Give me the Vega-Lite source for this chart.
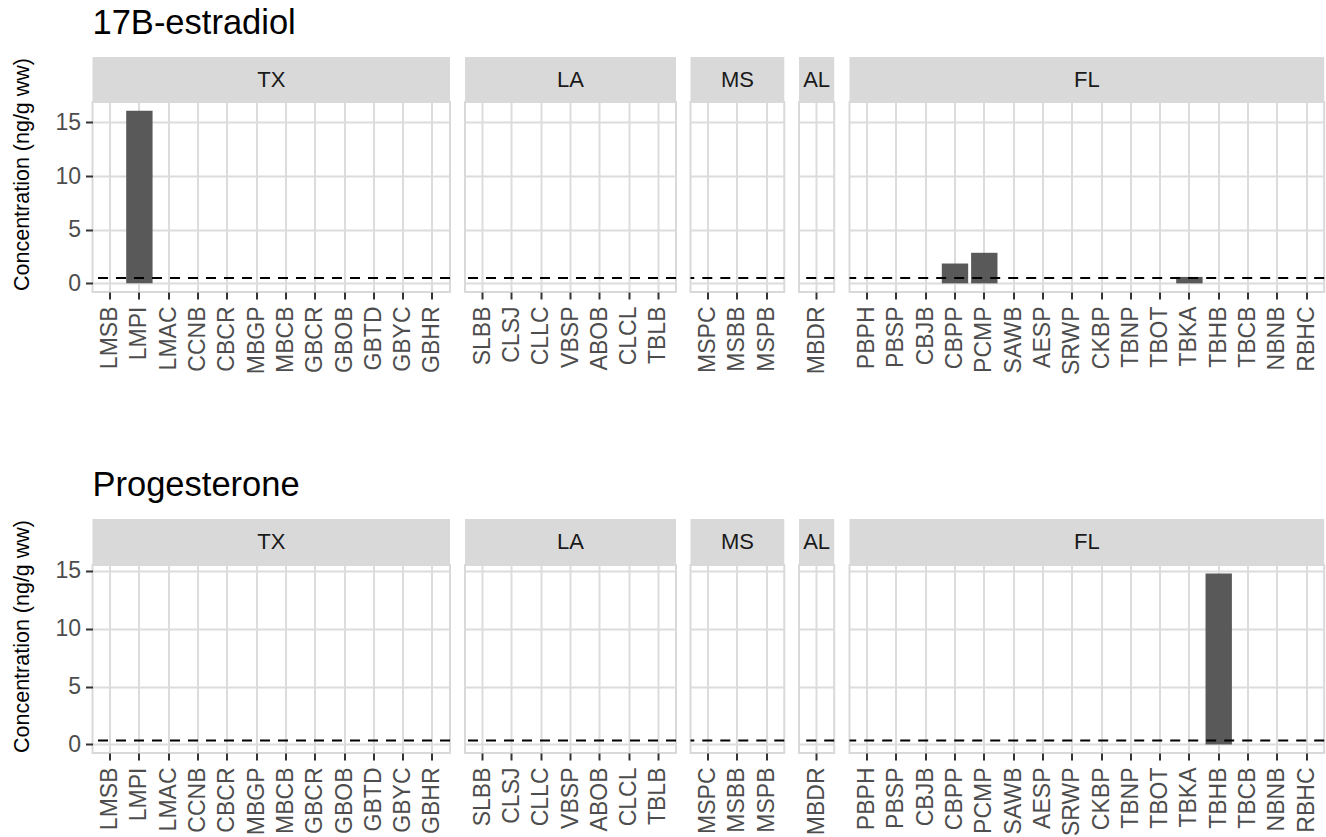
{
  "$schema": "https://vega.github.io/schema/vega-lite/v6.json",
  "background": "white",
  "padding": {"left": 10.5, "top": 5, "right": 1, "bottom": 2},
  "datasets": {
    "conc": [
      {"hormone": "17B-estradiol", "state": "TX", "site": "LMSB", "value": 0},
      {"hormone": "17B-estradiol", "state": "TX", "site": "LMPI", "value": 16.1},
      {"hormone": "17B-estradiol", "state": "TX", "site": "LMAC", "value": 0},
      {"hormone": "17B-estradiol", "state": "TX", "site": "CCNB", "value": 0},
      {"hormone": "17B-estradiol", "state": "TX", "site": "CBCR", "value": 0},
      {"hormone": "17B-estradiol", "state": "TX", "site": "MBGP", "value": 0},
      {"hormone": "17B-estradiol", "state": "TX", "site": "MBCB", "value": 0},
      {"hormone": "17B-estradiol", "state": "TX", "site": "GBCR", "value": 0},
      {"hormone": "17B-estradiol", "state": "TX", "site": "GBOB", "value": 0},
      {"hormone": "17B-estradiol", "state": "TX", "site": "GBTD", "value": 0},
      {"hormone": "17B-estradiol", "state": "TX", "site": "GBYC", "value": 0},
      {"hormone": "17B-estradiol", "state": "TX", "site": "GBHR", "value": 0},
      {"hormone": "17B-estradiol", "state": "LA", "site": "SLBB", "value": 0},
      {"hormone": "17B-estradiol", "state": "LA", "site": "CLSJ", "value": 0},
      {"hormone": "17B-estradiol", "state": "LA", "site": "CLLC", "value": 0},
      {"hormone": "17B-estradiol", "state": "LA", "site": "VBSP", "value": 0},
      {"hormone": "17B-estradiol", "state": "LA", "site": "ABOB", "value": 0},
      {"hormone": "17B-estradiol", "state": "LA", "site": "CLCL", "value": 0},
      {"hormone": "17B-estradiol", "state": "LA", "site": "TBLB", "value": 0},
      {"hormone": "17B-estradiol", "state": "MS", "site": "MSPC", "value": 0},
      {"hormone": "17B-estradiol", "state": "MS", "site": "MSBB", "value": 0},
      {"hormone": "17B-estradiol", "state": "MS", "site": "MSPB", "value": 0},
      {"hormone": "17B-estradiol", "state": "AL", "site": "MBDR", "value": 0},
      {"hormone": "17B-estradiol", "state": "FL", "site": "PBPH", "value": 0},
      {"hormone": "17B-estradiol", "state": "FL", "site": "PBSP", "value": 0},
      {"hormone": "17B-estradiol", "state": "FL", "site": "CBJB", "value": 0},
      {"hormone": "17B-estradiol", "state": "FL", "site": "CBPP", "value": 1.85},
      {"hormone": "17B-estradiol", "state": "FL", "site": "PCMP", "value": 2.85},
      {"hormone": "17B-estradiol", "state": "FL", "site": "SAWB", "value": 0},
      {"hormone": "17B-estradiol", "state": "FL", "site": "AESP", "value": 0},
      {"hormone": "17B-estradiol", "state": "FL", "site": "SRWP", "value": 0},
      {"hormone": "17B-estradiol", "state": "FL", "site": "CKBP", "value": 0},
      {"hormone": "17B-estradiol", "state": "FL", "site": "TBNP", "value": 0},
      {"hormone": "17B-estradiol", "state": "FL", "site": "TBOT", "value": 0},
      {"hormone": "17B-estradiol", "state": "FL", "site": "TBKA", "value": 0.6},
      {"hormone": "17B-estradiol", "state": "FL", "site": "TBHB", "value": 0},
      {"hormone": "17B-estradiol", "state": "FL", "site": "TBCB", "value": 0},
      {"hormone": "17B-estradiol", "state": "FL", "site": "NBNB", "value": 0},
      {"hormone": "17B-estradiol", "state": "FL", "site": "RBHC", "value": 0},
      {"hormone": "Progesterone", "state": "TX", "site": "LMSB", "value": 0},
      {"hormone": "Progesterone", "state": "TX", "site": "LMPI", "value": 0},
      {"hormone": "Progesterone", "state": "TX", "site": "LMAC", "value": 0},
      {"hormone": "Progesterone", "state": "TX", "site": "CCNB", "value": 0},
      {"hormone": "Progesterone", "state": "TX", "site": "CBCR", "value": 0},
      {"hormone": "Progesterone", "state": "TX", "site": "MBGP", "value": 0},
      {"hormone": "Progesterone", "state": "TX", "site": "MBCB", "value": 0},
      {"hormone": "Progesterone", "state": "TX", "site": "GBCR", "value": 0},
      {"hormone": "Progesterone", "state": "TX", "site": "GBOB", "value": 0},
      {"hormone": "Progesterone", "state": "TX", "site": "GBTD", "value": 0},
      {"hormone": "Progesterone", "state": "TX", "site": "GBYC", "value": 0},
      {"hormone": "Progesterone", "state": "TX", "site": "GBHR", "value": 0},
      {"hormone": "Progesterone", "state": "LA", "site": "SLBB", "value": 0},
      {"hormone": "Progesterone", "state": "LA", "site": "CLSJ", "value": 0},
      {"hormone": "Progesterone", "state": "LA", "site": "CLLC", "value": 0},
      {"hormone": "Progesterone", "state": "LA", "site": "VBSP", "value": 0},
      {"hormone": "Progesterone", "state": "LA", "site": "ABOB", "value": 0},
      {"hormone": "Progesterone", "state": "LA", "site": "CLCL", "value": 0},
      {"hormone": "Progesterone", "state": "LA", "site": "TBLB", "value": 0},
      {"hormone": "Progesterone", "state": "MS", "site": "MSPC", "value": 0},
      {"hormone": "Progesterone", "state": "MS", "site": "MSBB", "value": 0},
      {"hormone": "Progesterone", "state": "MS", "site": "MSPB", "value": 0},
      {"hormone": "Progesterone", "state": "AL", "site": "MBDR", "value": 0},
      {"hormone": "Progesterone", "state": "FL", "site": "PBPH", "value": 0},
      {"hormone": "Progesterone", "state": "FL", "site": "PBSP", "value": 0},
      {"hormone": "Progesterone", "state": "FL", "site": "CBJB", "value": 0},
      {"hormone": "Progesterone", "state": "FL", "site": "CBPP", "value": 0},
      {"hormone": "Progesterone", "state": "FL", "site": "PCMP", "value": 0},
      {"hormone": "Progesterone", "state": "FL", "site": "SAWB", "value": 0},
      {"hormone": "Progesterone", "state": "FL", "site": "AESP", "value": 0},
      {"hormone": "Progesterone", "state": "FL", "site": "SRWP", "value": 0},
      {"hormone": "Progesterone", "state": "FL", "site": "CKBP", "value": 0},
      {"hormone": "Progesterone", "state": "FL", "site": "TBNP", "value": 0},
      {"hormone": "Progesterone", "state": "FL", "site": "TBOT", "value": 0},
      {"hormone": "Progesterone", "state": "FL", "site": "TBKA", "value": 0},
      {"hormone": "Progesterone", "state": "FL", "site": "TBHB", "value": 14.77},
      {"hormone": "Progesterone", "state": "FL", "site": "TBCB", "value": 0},
      {"hormone": "Progesterone", "state": "FL", "site": "NBNB", "value": 0},
      {"hormone": "Progesterone", "state": "FL", "site": "RBHC", "value": 0}
    ],
    "loq": [
      {"hormone": "17B-estradiol", "loq": 0.5},
      {"hormone": "Progesterone", "loq": 0.35}
    ]
  },
  "spacing": 91,
  "vconcat": [
    {
      "title": {"text": "17B-estradiol", "frame": "group", "anchor": "start"},
      "spacing": 10.5,
      "hconcat": [
        {"spacing": 0, "bounds": "flush", "vconcat": [
          {"width": 357.5, "height": 45, "view": {"fill": "#d9d9d9", "stroke": null}, "data": {"values": [{"state": "TX"}]}, "mark": {"type": "text", "fontSize": 22, "color": "#1a1a1a"}, "encoding": {"text": {"field": "state", "type": "nominal"}}},
          {"width": 357.5, "height": 190, "layer": [
            {"data": {"name": "conc"}, "transform": [{"filter": {"field": "hormone", "equal": "17B-estradiol"}}, {"filter": {"field": "state", "equal": "TX"}}],
             "mark": {"type": "bar", "color": "#595959"},
             "encoding": {
               "x": {"field": "site", "type": "nominal", "sort": null, "scale": {"paddingInner": 0.1, "paddingOuter": 0.15}, "axis": {"title": null}},
               "y": {"field": "value", "type": "quantitative", "scale": {"domain": [-0.805, 16.905], "nice": false, "zero": false}, "axis": {"title": "Concentration (ng/g ww)", "values": [0, 5, 10, 15], "titleY": 72}}}},
            {"data": {"name": "loq"}, "transform": [{"filter": {"field": "hormone", "equal": "17B-estradiol"}}], "mark": {"type": "rule", "color": "black", "strokeWidth": 2, "strokeDash": [10, 8]}, "encoding": {"y": {"field": "loq", "type": "quantitative"}}}
          ]}
        ]},
        {"spacing": 0, "bounds": "flush", "vconcat": [
          {"width": 211, "height": 45, "view": {"fill": "#d9d9d9", "stroke": null}, "data": {"values": [{"state": "LA"}]}, "mark": {"type": "text", "fontSize": 22, "color": "#1a1a1a"}, "encoding": {"text": {"field": "state", "type": "nominal"}}},
          {"width": 211, "height": 190, "layer": [
            {"data": {"name": "conc"}, "transform": [{"filter": {"field": "hormone", "equal": "17B-estradiol"}}, {"filter": {"field": "state", "equal": "LA"}}],
             "mark": {"type": "bar", "color": "#595959"},
             "encoding": {
               "x": {"field": "site", "type": "nominal", "sort": null, "scale": {"paddingInner": 0.1, "paddingOuter": 0.15}, "axis": {"title": null}},
               "y": {"field": "value", "type": "quantitative", "scale": {"domain": [-0.805, 16.905], "nice": false, "zero": false}, "axis": {"title": null, "labels": false, "ticks": false, "values": [0, 5, 10, 15]}}}},
            {"data": {"name": "loq"}, "transform": [{"filter": {"field": "hormone", "equal": "17B-estradiol"}}], "mark": {"type": "rule", "color": "black", "strokeWidth": 2, "strokeDash": [10, 8]}, "encoding": {"y": {"field": "loq", "type": "quantitative"}}}
          ]}
        ]},
        {"spacing": 0, "bounds": "flush", "vconcat": [
          {"width": 93.8, "height": 45, "view": {"fill": "#d9d9d9", "stroke": null}, "data": {"values": [{"state": "MS"}]}, "mark": {"type": "text", "fontSize": 22, "color": "#1a1a1a"}, "encoding": {"text": {"field": "state", "type": "nominal"}}},
          {"width": 93.8, "height": 190, "layer": [
            {"data": {"name": "conc"}, "transform": [{"filter": {"field": "hormone", "equal": "17B-estradiol"}}, {"filter": {"field": "state", "equal": "MS"}}],
             "mark": {"type": "bar", "color": "#595959"},
             "encoding": {
               "x": {"field": "site", "type": "nominal", "sort": null, "scale": {"paddingInner": 0.1, "paddingOuter": 0.15}, "axis": {"title": null}},
               "y": {"field": "value", "type": "quantitative", "scale": {"domain": [-0.805, 16.905], "nice": false, "zero": false}, "axis": {"title": null, "labels": false, "ticks": false, "values": [0, 5, 10, 15]}}}},
            {"data": {"name": "loq"}, "transform": [{"filter": {"field": "hormone", "equal": "17B-estradiol"}}], "mark": {"type": "rule", "color": "black", "strokeWidth": 2, "strokeDash": [10, 8]}, "encoding": {"y": {"field": "loq", "type": "quantitative"}}}
          ]}
        ]},
        {"spacing": 0, "bounds": "flush", "vconcat": [
          {"width": 35.2, "height": 45, "view": {"fill": "#d9d9d9", "stroke": null}, "data": {"values": [{"state": "AL"}]}, "mark": {"type": "text", "fontSize": 22, "color": "#1a1a1a"}, "encoding": {"text": {"field": "state", "type": "nominal"}}},
          {"width": 35.2, "height": 190, "layer": [
            {"data": {"name": "conc"}, "transform": [{"filter": {"field": "hormone", "equal": "17B-estradiol"}}, {"filter": {"field": "state", "equal": "AL"}}],
             "mark": {"type": "bar", "color": "#595959"},
             "encoding": {
               "x": {"field": "site", "type": "nominal", "sort": null, "scale": {"paddingInner": 0.1, "paddingOuter": 0.15}, "axis": {"title": null}},
               "y": {"field": "value", "type": "quantitative", "scale": {"domain": [-0.805, 16.905], "nice": false, "zero": false}, "axis": {"title": null, "labels": false, "ticks": false, "values": [0, 5, 10, 15]}}}},
            {"data": {"name": "loq"}, "transform": [{"filter": {"field": "hormone", "equal": "17B-estradiol"}}], "mark": {"type": "rule", "color": "black", "strokeWidth": 2, "strokeDash": [10, 8]}, "encoding": {"y": {"field": "loq", "type": "quantitative"}}}
          ]}
        ]},
        {"spacing": 0, "bounds": "flush", "vconcat": [
          {"width": 474.7, "height": 45, "view": {"fill": "#d9d9d9", "stroke": null}, "data": {"values": [{"state": "FL"}]}, "mark": {"type": "text", "fontSize": 22, "color": "#1a1a1a"}, "encoding": {"text": {"field": "state", "type": "nominal"}}},
          {"width": 474.7, "height": 190, "layer": [
            {"data": {"name": "conc"}, "transform": [{"filter": {"field": "hormone", "equal": "17B-estradiol"}}, {"filter": {"field": "state", "equal": "FL"}}],
             "mark": {"type": "bar", "color": "#595959"},
             "encoding": {
               "x": {"field": "site", "type": "nominal", "sort": null, "scale": {"paddingInner": 0.1, "paddingOuter": 0.15}, "axis": {"title": null}},
               "y": {"field": "value", "type": "quantitative", "scale": {"domain": [-0.805, 16.905], "nice": false, "zero": false}, "axis": {"title": null, "labels": false, "ticks": false, "values": [0, 5, 10, 15]}}}},
            {"data": {"name": "loq"}, "transform": [{"filter": {"field": "hormone", "equal": "17B-estradiol"}}], "mark": {"type": "rule", "color": "black", "strokeWidth": 2, "strokeDash": [10, 8]}, "encoding": {"y": {"field": "loq", "type": "quantitative"}}}
          ]}
        ]}
      ]
    },
    {
      "title": {"text": "Progesterone", "frame": "group", "anchor": "start"},
      "spacing": 10.5,
      "hconcat": [
        {"spacing": 0, "bounds": "flush", "vconcat": [
          {"width": 357.5, "height": 46, "view": {"fill": "#d9d9d9", "stroke": null}, "data": {"values": [{"state": "TX"}]}, "mark": {"type": "text", "fontSize": 22, "color": "#1a1a1a"}, "encoding": {"text": {"field": "state", "type": "nominal"}}},
          {"width": 357.5, "height": 188, "layer": [
            {"data": {"name": "conc"}, "transform": [{"filter": {"field": "hormone", "equal": "Progesterone"}}, {"filter": {"field": "state", "equal": "TX"}}],
             "mark": {"type": "bar", "color": "#595959"},
             "encoding": {
               "x": {"field": "site", "type": "nominal", "sort": null, "scale": {"paddingInner": 0.1, "paddingOuter": 0.15}, "axis": {"title": null}},
               "y": {"field": "value", "type": "quantitative", "scale": {"domain": [-0.74, 15.51], "nice": false, "zero": false}, "axis": {"title": "Concentration (ng/g ww)", "values": [0, 5, 10, 15], "titleY": 71}}}},
            {"data": {"name": "loq"}, "transform": [{"filter": {"field": "hormone", "equal": "Progesterone"}}], "mark": {"type": "rule", "color": "black", "strokeWidth": 2, "strokeDash": [10, 8]}, "encoding": {"y": {"field": "loq", "type": "quantitative"}}}
          ]}
        ]},
        {"spacing": 0, "bounds": "flush", "vconcat": [
          {"width": 211, "height": 46, "view": {"fill": "#d9d9d9", "stroke": null}, "data": {"values": [{"state": "LA"}]}, "mark": {"type": "text", "fontSize": 22, "color": "#1a1a1a"}, "encoding": {"text": {"field": "state", "type": "nominal"}}},
          {"width": 211, "height": 188, "layer": [
            {"data": {"name": "conc"}, "transform": [{"filter": {"field": "hormone", "equal": "Progesterone"}}, {"filter": {"field": "state", "equal": "LA"}}],
             "mark": {"type": "bar", "color": "#595959"},
             "encoding": {
               "x": {"field": "site", "type": "nominal", "sort": null, "scale": {"paddingInner": 0.1, "paddingOuter": 0.15}, "axis": {"title": null}},
               "y": {"field": "value", "type": "quantitative", "scale": {"domain": [-0.74, 15.51], "nice": false, "zero": false}, "axis": {"title": null, "labels": false, "ticks": false, "values": [0, 5, 10, 15]}}}},
            {"data": {"name": "loq"}, "transform": [{"filter": {"field": "hormone", "equal": "Progesterone"}}], "mark": {"type": "rule", "color": "black", "strokeWidth": 2, "strokeDash": [10, 8]}, "encoding": {"y": {"field": "loq", "type": "quantitative"}}}
          ]}
        ]},
        {"spacing": 0, "bounds": "flush", "vconcat": [
          {"width": 93.8, "height": 46, "view": {"fill": "#d9d9d9", "stroke": null}, "data": {"values": [{"state": "MS"}]}, "mark": {"type": "text", "fontSize": 22, "color": "#1a1a1a"}, "encoding": {"text": {"field": "state", "type": "nominal"}}},
          {"width": 93.8, "height": 188, "layer": [
            {"data": {"name": "conc"}, "transform": [{"filter": {"field": "hormone", "equal": "Progesterone"}}, {"filter": {"field": "state", "equal": "MS"}}],
             "mark": {"type": "bar", "color": "#595959"},
             "encoding": {
               "x": {"field": "site", "type": "nominal", "sort": null, "scale": {"paddingInner": 0.1, "paddingOuter": 0.15}, "axis": {"title": null}},
               "y": {"field": "value", "type": "quantitative", "scale": {"domain": [-0.74, 15.51], "nice": false, "zero": false}, "axis": {"title": null, "labels": false, "ticks": false, "values": [0, 5, 10, 15]}}}},
            {"data": {"name": "loq"}, "transform": [{"filter": {"field": "hormone", "equal": "Progesterone"}}], "mark": {"type": "rule", "color": "black", "strokeWidth": 2, "strokeDash": [10, 8]}, "encoding": {"y": {"field": "loq", "type": "quantitative"}}}
          ]}
        ]},
        {"spacing": 0, "bounds": "flush", "vconcat": [
          {"width": 35.2, "height": 46, "view": {"fill": "#d9d9d9", "stroke": null}, "data": {"values": [{"state": "AL"}]}, "mark": {"type": "text", "fontSize": 22, "color": "#1a1a1a"}, "encoding": {"text": {"field": "state", "type": "nominal"}}},
          {"width": 35.2, "height": 188, "layer": [
            {"data": {"name": "conc"}, "transform": [{"filter": {"field": "hormone", "equal": "Progesterone"}}, {"filter": {"field": "state", "equal": "AL"}}],
             "mark": {"type": "bar", "color": "#595959"},
             "encoding": {
               "x": {"field": "site", "type": "nominal", "sort": null, "scale": {"paddingInner": 0.1, "paddingOuter": 0.15}, "axis": {"title": null}},
               "y": {"field": "value", "type": "quantitative", "scale": {"domain": [-0.74, 15.51], "nice": false, "zero": false}, "axis": {"title": null, "labels": false, "ticks": false, "values": [0, 5, 10, 15]}}}},
            {"data": {"name": "loq"}, "transform": [{"filter": {"field": "hormone", "equal": "Progesterone"}}], "mark": {"type": "rule", "color": "black", "strokeWidth": 2, "strokeDash": [10, 8]}, "encoding": {"y": {"field": "loq", "type": "quantitative"}}}
          ]}
        ]},
        {"spacing": 0, "bounds": "flush", "vconcat": [
          {"width": 474.7, "height": 46, "view": {"fill": "#d9d9d9", "stroke": null}, "data": {"values": [{"state": "FL"}]}, "mark": {"type": "text", "fontSize": 22, "color": "#1a1a1a"}, "encoding": {"text": {"field": "state", "type": "nominal"}}},
          {"width": 474.7, "height": 188, "layer": [
            {"data": {"name": "conc"}, "transform": [{"filter": {"field": "hormone", "equal": "Progesterone"}}, {"filter": {"field": "state", "equal": "FL"}}],
             "mark": {"type": "bar", "color": "#595959"},
             "encoding": {
               "x": {"field": "site", "type": "nominal", "sort": null, "scale": {"paddingInner": 0.1, "paddingOuter": 0.15}, "axis": {"title": null}},
               "y": {"field": "value", "type": "quantitative", "scale": {"domain": [-0.74, 15.51], "nice": false, "zero": false}, "axis": {"title": null, "labels": false, "ticks": false, "values": [0, 5, 10, 15]}}}},
            {"data": {"name": "loq"}, "transform": [{"filter": {"field": "hormone", "equal": "Progesterone"}}], "mark": {"type": "rule", "color": "black", "strokeWidth": 2, "strokeDash": [10, 8]}, "encoding": {"y": {"field": "loq", "type": "quantitative"}}}
          ]}
        ]}
      ]
    }
  ],
  "config": {
    "font": "Liberation Sans",
    "view": {"fill": "white", "stroke": "#d9d9d9", "strokeWidth": 2},
    "axis": {"domain": false, "gridColor": "#dcdcdc", "gridWidth": 2, "labelFont": "Liberation Sans", "labelColor": "#4d4d4d", "tickColor": "#333333", "tickSize": 7, "tickWidth": 2, "titleFontSize": 21.5, "titleFontWeight": "normal", "titleColor": "black", "titleFont": "Liberation Sans"},
    "axisX": {"labelAngle": 270, "bandPosition": 0.5, "grid": true, "labelFontSize": 23, "labelPadding": 7},
    "axisY": {"titlePadding": 21, "labelFontSize": 23, "labelPadding": 5},
    "title": {"fontSize": 34.5, "fontWeight": "normal", "color": "black", "font": "Liberation Sans", "anchor": "start", "offset": 15}
  }
}
